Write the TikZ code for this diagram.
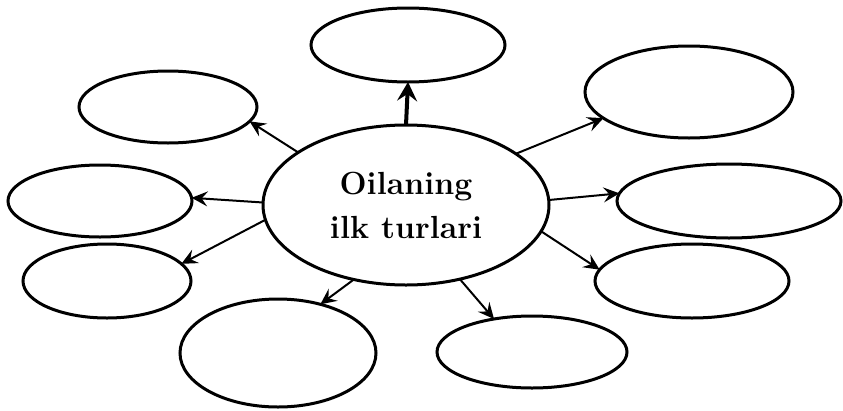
\documentclass[tikz,border=0pt]{standalone}
\usetikzlibrary{shapes.geometric,arrows.meta}
\begin{document}
\begin{tikzpicture}[x=1pt,y=-1pt,
  oval/.style={ellipse,draw,line width=3pt,inner sep=0pt,outer sep=0pt},
  link/.style={line width=2pt,-{Stealth[length=16pt,width=15pt,inset=6pt]}},
  thicklink/.style={line width=4pt,-{Stealth[length=19pt,width=20pt,inset=7pt]}}]
\useasboundingbox (0,0) rectangle (843,410);
\node[oval,minimum width=286pt,minimum height=160pt,align=center,
  font=\fontsize{32}{44}\selectfont\bfseries] (c) at (406,205) {Oilaning\\ilk turlari};
\node[oval,minimum width=194pt,minimum height=74pt] (t) at (408,45) {};
\node[oval,minimum width=178pt,minimum height=72pt] (tl) at (168,107) {};
\node[oval,minimum width=208pt,minimum height=92pt] (tr) at (689,92) {};
\node[oval,minimum width=184pt,minimum height=72pt] (l) at (100,201) {};
\node[oval,minimum width=224pt,minimum height=74pt] (r) at (729,201) {};
\node[oval,minimum width=168pt,minimum height=74pt] (ll) at (107,281) {};
\node[oval,minimum width=194pt,minimum height=74pt] (rl) at (692,281) {};
\node[oval,minimum width=196pt,minimum height=108pt] (bl) at (278,353) {};
\node[oval,minimum width=190pt,minimum height=72pt] (br) at (532,352) {};
\draw[thicklink] (c.90) -- (t.270);
\draw[link] (c.154) -- (tl.-10);
\draw[link] (c.179) -- (l.2);
\draw[link] (c.186) -- (ll.13);
\draw[link] (c.235) -- (bl.49);
\draw[link] (c.306) -- (br.139);
\draw[link] (c.-11) -- (rl.173);
\draw[link] (c.2) -- (r.176);
\draw[link] (c.25) -- (tr.197);
\end{tikzpicture}
\end{document}
